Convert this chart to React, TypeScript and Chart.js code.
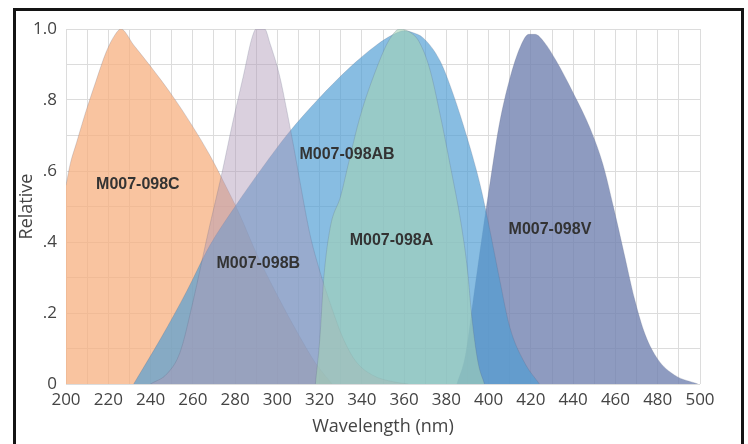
import React, { useEffect, useRef } from "react";
import { Chart, registerables } from "chart.js";

Chart.register(...registerables);

// Wavelength (nm) / relative response for each LED
const cWl = [200, 202, 205, 209, 214, 219, 223, 226, 232, 240, 250, 260, 268, 275, 282, 290, 300, 310, 318, 326];
const cVal = [0.56, 0.62, 0.68, 0.76, 0.85, 0.935, 0.982, 1.0, 0.955, 0.895, 0.815, 0.725, 0.645, 0.565, 0.48, 0.37, 0.25, 0.14, 0.06, 0];

const bWl = [240, 248, 254, 260, 267, 274, 279, 284, 288, 290, 294, 296.5, 301, 304.5, 308, 311, 315.5, 320, 326, 331, 337, 345, 355, 362];
const bVal = [0, 0.03, 0.09, 0.23, 0.42, 0.6, 0.74, 0.87, 0.975, 1.0, 1.0, 0.96, 0.87, 0.77, 0.66, 0.56, 0.42, 0.32, 0.21, 0.13, 0.065, 0.025, 0.006, 0];

const abWl = [232, 245, 257, 268, 280, 293, 305, 319, 334, 347, 355, 360, 364, 369, 377, 383, 390, 396, 400, 405, 410, 417, 424];
const abVal = [0, 0.13, 0.26, 0.39, 0.5, 0.61, 0.705, 0.8, 0.89, 0.955, 0.985, 0.995, 0.99, 0.975, 0.91, 0.82, 0.69, 0.56, 0.45, 0.3, 0.16, 0.06, 0];

const aWl = [318, 320, 322, 325, 330, 334, 339, 347, 353, 358, 363, 367, 372, 377, 382, 387, 390, 392, 395, 398];
const aVal = [0, 0.12, 0.3, 0.44, 0.53, 0.63, 0.75, 0.89, 0.97, 1.0, 0.99, 0.965, 0.89, 0.76, 0.61, 0.45, 0.32, 0.19, 0.06, 0];

const vWl = [385, 389, 393, 397, 401, 405, 410, 415, 419, 422, 426, 432, 440, 448, 454, 459, 464, 469, 474, 480, 488, 499];
const vVal = [0, 0.08, 0.25, 0.42, 0.58, 0.73, 0.86, 0.95, 0.985, 0.985, 0.965, 0.91, 0.82, 0.72, 0.62, 0.5, 0.37, 0.24, 0.14, 0.07, 0.025, 0];

// In-plot series labels (data coordinates)
const labelNames = ["M007-098C", "M007-098B", "M007-098AB", "M007-098A", "M007-098V"];
const labelWl = [234, 291, 333, 354, 429];
const labelVal = [0.563, 0.34, 0.645, 0.405, 0.434];

const xTitle = "Wavelength (nm)";
const yTitle = "Relative";

const pts = (xs: number[], ys: number[]) => xs.map((x, i) => ({ x, y: ys[i] }));

const labelPlugin = {
  id: "seriesLabels",
  afterDatasetsDraw(chart: any) {
    const { ctx, scales } = chart;
    ctx.save();
    ctx.font = 'bold 16px "Liberation Sans", Arial, sans-serif';
    ctx.fillStyle = "#333333";
    ctx.textAlign = "center";
    ctx.textBaseline = "middle";
    labelNames.forEach((n, i) => {
      ctx.fillText(n, scales.x.getPixelForValue(labelWl[i]), scales.y.getPixelForValue(labelVal[i]));
    });
    ctx.restore();
  },
};

export default function App() {
  const ref = useRef<HTMLCanvasElement>(null);
  useEffect(() => {
    if (!ref.current) return;
    const edge = "rgba(80,90,120,0.3)";
    const mk = (label: string, xs: number[], ys: number[], bg: string, order: number) => ({
      label,
      data: pts(xs, ys),
      backgroundColor: bg,
      borderColor: edge,
      borderWidth: 0.7,
      fill: "origin",
      pointRadius: 0,
      cubicInterpolationMode: "monotone" as const,
      order,
    });
    const chart = new Chart(ref.current, {
      type: "line",
      data: {
        datasets: [
          mk("M007-098A", aWl, aVal, "rgba(164,210,181,0.6)", 0),
          mk("M007-098B", bWl, bVal, "rgba(173,151,182,0.45)", 1),
          mk("M007-098AB", abWl, abVal, "rgba(80,158,212,0.68)", 2),
          mk("M007-098V", vWl, vVal, "rgba(114,130,176,0.8)", 3),
          mk("M007-098C", cWl, cVal, "rgba(247,176,128,0.75)", 4),
        ],
      },
      options: {
        animation: false,
        responsive: false,
        devicePixelRatio: 1,
        layout: { padding: { left: 0, right: 48, top: 29, bottom: 0 } },
        plugins: { legend: { display: false }, tooltip: { enabled: false } },
        scales: {
          x: {
            type: "linear",
            min: 200,
            max: 500,
            afterFit: (s: any) => {
              s.height = 60;
            },
            border: { display: false },
            grid: { color: "#dcdcdc", lineWidth: 1, drawTicks: false },
            ticks: {
              stepSize: 10,
              autoSkip: false,
              maxRotation: 0,
              padding: 6,
              color: "#444",
              font: { family: '"Open Sans", sans-serif', size: 17 },
              callback: (v: any) => (Math.round(Number(v)) % 20 === 0 ? String(Math.round(Number(v))) : ""),
            },
            title: {
              display: true,
              text: xTitle,
              color: "#444",
              font: { family: '"Open Sans", sans-serif', size: 18 },
              padding: { top: 0, bottom: 6 },
            },
          },
          y: {
            min: 0,
            max: 1,
            afterFit: (s: any) => {
              s.width = 66;
            },
            border: { display: false },
            grid: { color: "#dcdcdc", lineWidth: 1, drawTicks: false },
            ticks: {
              stepSize: 0.1,
              autoSkip: false,
              padding: 9,
              color: "#444",
              font: { family: '"Open Sans", sans-serif', size: 17 },
              callback: (v: any) => {
                const t = Math.round(Number(v) * 10);
                if (t % 2) return "";
                if (t === 0) return "0";
                if (t === 10) return "1.0";
                return "." + t;
              },
            },
            title: {
              display: true,
              text: yTitle,
              color: "#444",
              font: { family: '"Open Sans", sans-serif', size: 18 },
              padding: { top: 16, bottom: 0 },
            },
          },
        },
      },
      plugins: [labelPlugin],
    });
    return () => chart.destroy();
  }, []);

  return (
    <div style={{ position: "fixed", left: 0, top: 0, width: 748, height: 444, background: "#fff" }}>
      <canvas ref={ref} width={748} height={444} style={{ position: "absolute", left: 0, top: 0, width: 748, height: 444 }} />
      <div
        style={{
          position: "absolute",
          left: 13,
          top: 8,
          width: 731,
          height: 436,
          border: "3px solid #141414",
          borderBottom: "none",
          boxSizing: "border-box",
          pointerEvents: "none",
        }}
      />
    </div>
  );
}
